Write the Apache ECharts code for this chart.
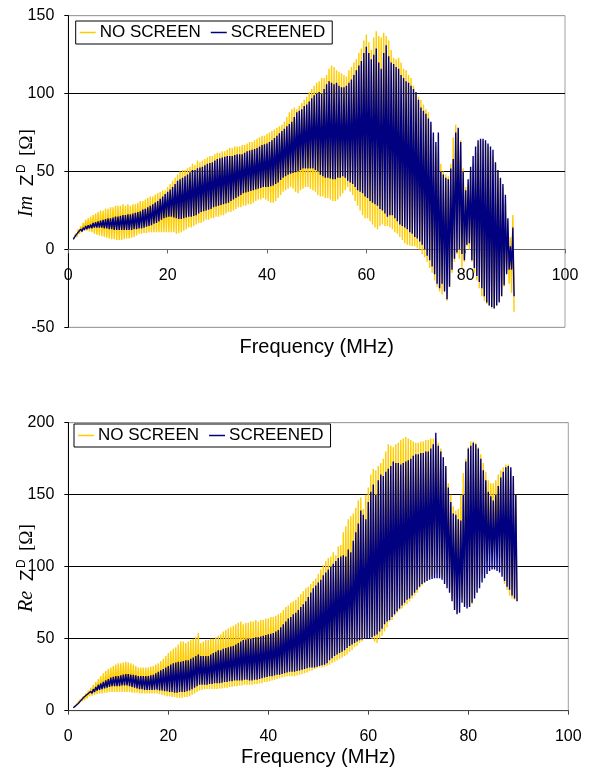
<!DOCTYPE html>
<html>
<head>
<meta charset="utf-8">
<script src="https://cdn.jsdelivr.net/npm/echarts@6/dist/echarts.min.js"></script>
<style>
html,body{margin:0;padding:0;background:#fff;}
#chart{width:591px;height:769px;}
</style>
</head>
<body>
<div id="chart"></div>
<script>
// Frequency sampling grid (MHz): peaks at fStart + fStep*i, troughs half a step later
const fStart = 1, fStep = 0.5;
const xTicks = [0, 20, 40, 60, 80, 100];
const seriesNames = ['NO SCREEN', 'SCREENED'];

// ---- Im Z^D, NO SCREEN (peaks / troughs) ----
const imNoHi = [
 7,10,13,15,17,19,20,21,22,23,
 24,25,25,26,26,27,27,28,28,28,
 29,28,29,28,29,29,30,31,31,32,
 33,34,34,35,36,37,38,38,40,42,
 44,46,48,50,51,51,52,53,55,54,
 57,56,57,58,59,60,60,61,62,62,
 63,63,64,65,65,66,66,66,67,67,
 68,69,69,70,71,72,73,73,74,75,
 76,77,78,79,80,82,85,88,90,91,
 90,92,94,96,98,101,103,105,107,108,
 110,110,112,116,118,117,115,114,113,112,
 111,115,117,120,122,126,129,134,138,133,
 128,136,140,137,136,139,137,134,128,123,
 122,123,120,116,115,112,110,105,100,98,
 96,93,90,88,80,72,66,62,55,50,
 48,47,55,72,80,76,70,52,40,42,
 50,55,62,68,70,70,68,66,63,60,
 55,50,45,40,30,10,8,22];
const imNoLo = [
 6,8,10,11,12,12,11.5,11,10,9.5,
 9,8.5,8,7.5,7,6.5,6.5,6,6,6,
 6.5,7,7,7.5,8,9,10,10,10.5,10.5,
 11,11,11,11,11,11,11,11,11,11,
 11,10,10.5,11,12,13,14,14,15,16,
 17,17,18,19,19,20,20,21,21,22,
 22,23,24,24,25,26,27,27,28,28,
 29,29,30,31,32,32,33,32,31,30,
 30,31,33,35,37,38,39,40,39,37,
 36,38,39,40,40,39,38,37,35,34,
 34,33,33,32,31,31,32,34,36,38,
 40,37,35,31,28,25,22,20,20,18,
 16,14,13,15,16,15,15,14,13,11,
 10,8,6,4,3,2.5,2,2,1,0,
 -3,-5,-8,-12,-15,-20,-24,-27,-29,-25,
 -33,-24,-15,-8,-3,-6,-12,-8,2,0,
 -8,-15,-20,-25,-30,-33,-35,-36,-38,-38,
 -36,-33,-30,-24,-14,-22,-28,-40];

// ---- Im Z^D, SCREENED ----
const imScHi = [
 6.5,9,11,13,14,15,15.5,16,17,17.5,
 18,18.5,19,19.5,20,20,20.5,21,21,21.5,
 22,22,22.5,22.5,23,23.5,24,24.5,25.5,26,
 27,28,29,30,31,32.5,34,35.5,37,38.5,
 40,42,44,45,46,47,48,49.5,51,51,
 52,52.5,53,54,55,55.5,56,57,58,58.5,
 59,59.5,60,60,60,60.5,61,61,61,62,
 63,63.5,64,64.5,65,66,67,67.5,68,69,
 70,71.5,73,74.5,76,77.5,79,80.5,82,85,
 88,89,90,92,93,95,97,99,100,101,
 100,103,106,108,107,106,107,105,104,104,
 105,107,109,112,115,118,121,126,130,126,
 122,125,129,120,116,126,131,124,120,119,
 117,116,112,110,108,107,105,103,101,96,
 91,89,87,84,82,75,69,75,50,48,
 46,45,52,58,75,78,69,50,38,45,
 53,60,66,70,71,71,70,68,66,64,
 56,51,46,42,35,20,2,14];
const imScLo = [
 6,8,10,11.5,12.5,13,13.5,13.5,14,14,
 14,14,13.5,13.5,13,13,12.5,12.5,12.5,12.5,
 12.5,12.5,12.5,12.5,13,13,13.5,13.5,14,14.5,
 15,15.5,16.5,17,18,19,20,20.5,21,21,
 20.5,20,19.5,19.5,20,20.5,21,21,21.5,22,
 23,24,24.5,25,25.5,26,27,27.5,28,28.5,
 29,29.5,30,31,32,33,34,35,36,36.5,
 37,37.5,38,38.5,39,39.5,40,40,40,40.5,
 41,42,43,44.5,46,47,48,48.5,49,49.5,
 50,51,52,52,52,52,52,51,50,48,
 47,46,46,45.5,45,45,46,46,47,46,
 44,43,42,40,38,37,36,34,33,31,
 30,29,28,26,25,23,21,22,22,20,
 18,16,15,14,13,11,10,8,7,5,
 3,0,-4,-7,-11,-16,-22,-25,-22,-27,
 -32,-24,-13,-6,-2,0,-3,-7,3,4,
 -7,-12,-17,-21,-25,-30,-34,-36,-37,-38,
 -36,-34,-30,-23,-16,-13,-13,-30];

// ---- Re Z^D, NO SCREEN ----
const reNoHi = [
 2,4,6,8,10,12,14,16,18,20,
 22,24,26,27.5,29,30,31,32,33,33,
 33.5,34,33.5,33,32,31,30,30,30,30,
 30,30.5,31,32,33,34.5,36,38,40,41.5,
 43,44,46,48,48,47,48,49,50,51,
 54,47,48,49,49,50,50,51,52,53,
 55,56,57,58,59,60,61,62,60,61,
 61,62,62,63,62,63,63,64,64,65,
 65,66,67,68,70,72,73,75,76,77,
 79,81,83,85,86,88,90,92,95,98,
 101,104,106,107,110,108,114,115,124,128,
 133,135,137,141,146,148,140,150,155,164,
 168,167,170,172,175,180,185,184,183,185,
 186,188,189,190,189,188,187,186,186,187,
 187,188,188,189,189,189,186,182,176,168,
 158,150,142,139,140,150,165,175,183,187,
 187,186,183,178,172,166,160,158,158,160,
 164,167,169,171,171,168,162,150];
const reNoLo = [
 2,3.5,5,6.5,7.5,8.5,10,10.5,11,11.5,
 12,12,12.5,12.5,13,13,13,13,13,13,
 13,13,13,12.5,12.5,12.5,12,12,12,12,
 12,12,12,12,11.5,11,10.5,10,10,9.5,
 9.5,9,9,9,9.5,9.5,10,11,12,13,
 14,14.5,15,15,15,15,15,15,15.5,15.5,
 16,16,16.5,16.5,17,17,17.5,17.5,18,18,
 18,18,18.5,18.5,19,19,20,20,20.5,21,
 21.5,22,22.5,23,23.5,24,24,24,24,24.5,
 25,25.5,26,26.5,27.5,28,29,29.5,30,30,
 30.5,31,32,33,34,35,36,37,38,39,
 41,42,44,45,47,48,50,51,52,50,
 48,47,50,52,55,58,62,63,66,68,
 70,71,73,74,76,78,80,82,85,87,
 89,90,92,93,95,96,95,93,90,87,
 84,78,70,68,76,79,74,73,72,74,
 80,85,90,95,100,104,108,110,110,109,
 106,98,88,84,80,78,77,76];

// ---- Re Z^D, SCREENED ----
const reScHi = [
 2,3.5,5,7,9,10.5,12,13.5,15,16.5,
 18,19,20,21,22,23,23.5,24,24,24.5,
 25,25.5,25.5,25,25,24.5,24,24,24,24,
 24,24.5,25,26,27,28,29,30,31,32,
 33,33.5,34,34,34.5,35,35,36,37,38,
 39,38,38,38,38,39,40,41,42,42,
 43,43.5,44,44.5,45,46,47,48,49,49.5,
 50,50,50.5,51,51,51.5,52,52.5,53,53.5,
 54,55,56,58,60,62,64,65,67,68,
 70,72,74,76,79,82,85,87,89,91,
 94,96,98,100,102,104,106,107,108,107,
 112,110,118,124,130,139,136,133,145,152,
 157,150,160,164,163,166,168,170,173,172,
 172,171,172,173,174,175,177,178,178,179,
 179,180,180,182,185,193,184,180,176,170,
 155,145,137,136,133,132,150,173,182,184,
 186,185,182,175,167,160,152,149,146,150,
 156,162,166,169,170,169,163,150];
const reScLo = [
 2,3.5,5,6.5,8,9.5,11,12,13,14,
 14.5,15,15.5,16,16.5,17,17,17,17,17.5,
 17.5,17.5,17,16.5,16,15.5,15,15,14.5,14.5,
 14.5,14.5,14.5,14.5,14,14,13.5,13.5,13,13,
 12.5,12.5,13,13,13,13.5,14,15,16,17,
 18,18,18,18,18.5,18.5,19,19,19,19.5,
 20,20,20.5,20.5,21,21,21,21,21.5,21.5,
 21,21,21.5,21.5,22,22.5,23,23.5,24,24,
 24.5,25,25,25.5,26,26.5,27,27,27,27.5,
 28,28.5,29,29.5,30,30,30,30.5,31,31.5,
 32,33,35,36.5,38,39,40,41,42,43.5,
 45,46,47,48,49,49.5,50,50,50,51,
 52,53,55,57,60,62,63,65,67,69,
 71,73,75,77,78,80,82,84,86,88,
 89,90,91,91.5,92,92,92,91,88,85,
 82,76,70,67,68,75,72,71,72,75,
 78,82,85,89,92,95,97,98,98,97,
 96,93,90,86,84,80,78,76];

const YELLOW = '#FFCC00';
const BLUE = '#000080';
const SANS = "'Liberation Sans', Arial, Helvetica, sans-serif";
const SERIF = "'Liberation Serif', 'Times New Roman', serif";

function zigzag(hi, lo) {
  const pts = [];
  for (let i = 0; i < hi.length; i++) {
    const f = fStart + fStep * i;
    pts.push([f, hi[i]]);
    pts.push([f + fStep / 2, lo[i]]);
  }
  return pts;
}

function xAxisCfg(gridIndex, axisColor, offset) {
  return {
    type: 'value', gridIndex, position: 'bottom', offset,
    min: xTicks[0], max: xTicks[xTicks.length - 1], interval: 20,
    axisLine: { show: true, onZero: false, lineStyle: { color: axisColor, width: 1 } },
    axisTick: { show: true, inside: false, length: 4, lineStyle: { color: axisColor } },
    axisLabel: { show: true, fontSize: 16, color: '#000', fontFamily: SANS, margin: 18,
                 showMinLabel: true, showMaxLabel: true },
    splitLine: { show: false }
  };
}
function yAxisCfg(gridIndex, min, max, splitColors) {
  return {
    type: 'value', gridIndex, min, max, interval: 50,
    axisLine: { show: true, onZero: false, lineStyle: { color: '#000', width: 1 } },
    axisTick: { show: true, inside: false, length: 4, lineStyle: { color: '#000' } },
    axisLabel: { show: true, fontSize: 16, color: '#000', fontFamily: SANS, margin: 14,
                 showMinLabel: true, showMaxLabel: true },
    splitLine: { show: true, lineStyle: { color: splitColors, width: 1 } }
  };
}
function legendCfg(left, top) {
  return {
    left, top, orient: 'horizontal',
    data: seriesNames,
    icon: 'rect', itemWidth: 16, itemHeight: 1.5, itemGap: 10,
    padding: [3, 7, 3, 4],
    borderColor: '#000', borderWidth: 1, backgroundColor: '#fff',
    textStyle: { fontSize: 17, color: '#000', fontFamily: SANS, padding: [0, 0, 0, -1] },
    selectedMode: false
  };
}
function lineSeries(name, color, axisIdx, data, z) {
  return {
    type: 'line', name, xAxisIndex: axisIdx, yAxisIndex: axisIdx, data,
    showSymbol: false, symbol: 'none', color, z,
    lineStyle: { color, width: 1.4 }, animation: false, silent: true
  };
}

// rotated y-axis titles built from separate text pieces (local x = reading direction, y = 0 on baseline)
function yTitle(sx, sy, prefix) {
  const mid = (fs) => -0.35 * fs;
  return {
    type: 'group', x: sx, y: sy, rotation: Math.PI / 2, silent: true,
    children: [
      { type: 'text', x: 0, y: mid(20), style: { text: prefix, fontFamily: SERIF, fontStyle: 'italic', fontSize: 20, fill: '#000', align: 'left', verticalAlign: 'middle' } },
      { type: 'text', x: 31, y: mid(19), style: { text: 'Z', fontFamily: SANS, fontSize: 19, fill: '#000', align: 'left', verticalAlign: 'middle' } },
      { type: 'text', x: 44, y: -8 + mid(12), style: { text: 'D', fontFamily: SANS, fontSize: 12, fill: '#000', align: 'left', verticalAlign: 'middle' } },
      { type: 'text', x: 61, y: mid(19), style: { text: '[Ω]', fontFamily: SERIF, fontSize: 19, fill: '#000', align: 'left', verticalAlign: 'middle' } }
    ]
  };
}

const chart = echarts.init(document.getElementById('chart'), null, { renderer: 'canvas' });
chart.setOption({
  animation: false,
  backgroundColor: '#fff',
  grid: [
    { left: 68.3, top: 15.7, width: 496.7, height: 311.6, show: true, borderColor: '#a0a0a0', borderWidth: 1,
      backgroundColor: 'transparent', containLabel: false, outerBoundsMode: 'none' },
    { left: 68.3, top: 422.7, width: 500, height: 288, show: true, borderColor: '#a0a0a0', borderWidth: 1,
      backgroundColor: 'transparent', containLabel: false, outerBoundsMode: 'none' }
  ],
  xAxis: [ xAxisCfg(0, '#666', -77.9), xAxisCfg(1, '#444', 0) ],
  yAxis: [
    yAxisCfg(0, -50, 150, ['#a0a0a0', '#666', '#000', '#000', '#a0a0a0']),
    yAxisCfg(1, 0, 200, ['#444', '#000', '#000', '#000', '#a0a0a0'])
  ],
  legend: [ legendCfg(75.7, 21), legendCfg(74, 424) ],
  series: [
    lineSeries(seriesNames[0], YELLOW, 0, zigzag(imNoHi, imNoLo), 2),
    lineSeries(seriesNames[1], BLUE, 0, zigzag(imScHi, imScLo), 3),
    lineSeries(seriesNames[0], YELLOW, 1, zigzag(reNoHi, reNoLo), 2),
    lineSeries(seriesNames[1], BLUE, 1, zigzag(reScHi, reScLo), 3)
  ],
  graphic: [
    { type: 'text', x: 316.7, y: 347, silent: true,
      style: { text: 'Frequency (MHz)', fontSize: 20, fontFamily: SANS, fill: '#000', align: 'center', verticalAlign: 'middle' } },
    { type: 'text', x: 318.3, y: 757, silent: true,
      style: { text: 'Frequency (MHz)', fontSize: 20, fontFamily: SANS, fill: '#000', align: 'center', verticalAlign: 'middle' } },
    yTitle(34, 217, 'Im'),
    yTitle(34, 612, 'Re')
  ]
});
</script>
</body>
</html>
